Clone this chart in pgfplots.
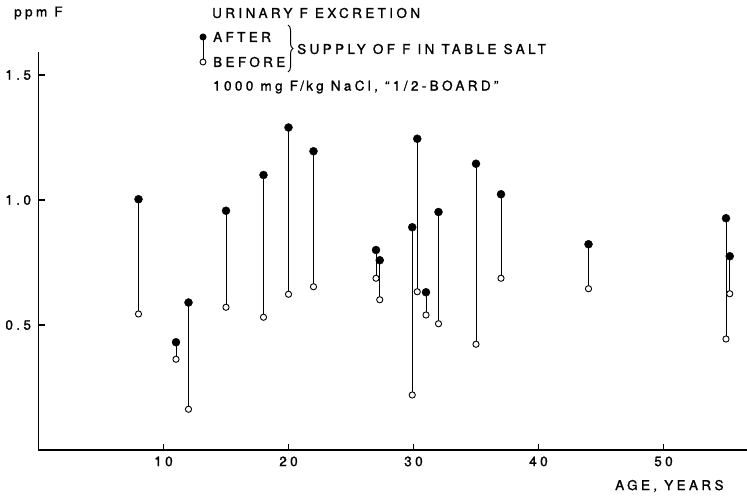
\documentclass[border=0pt]{standalone}
\usepackage{fontspec}
\usepackage{pgfplots}
\usepackage{pgfplotstable}
\pgfplotsset{compat=1.18}
\usetikzlibrary{decorations.pathreplacing}
\setmainfont{TeX Gyre Heros}
\newfontfamily\lf{TeX Gyre Heros}[LetterSpace=25, FakeBold=1.2]
\newcommand{\lff}{\lf\fontsize{13.5}{15}\selectfont}

\pgfplotstableread{
x     b      a
8     0.544  1.003
11    0.363  0.431
12    0.163  0.590
15    0.571  0.957
18    0.531  1.100
20    0.623  1.290
22    0.653  1.195
27    0.687  0.800
27.3  0.601  0.759
29.9  0.220  0.891
30.3  0.633  1.245
31    0.540  0.631
32    0.505  0.952
35    0.423  1.145
37    0.687  1.023
44    0.645  0.823
55    0.444  0.927
55.3  0.625  0.775
}\data

\begin{document}
\begin{tikzpicture}[x=1pt,y=1pt]
\useasboundingbox (0,0) rectangle (747,499);
\begin{axis}[
  at={(38.5pt,49pt)}, anchor=south west,
  scale only axis, width=708pt, height=397.5pt,
  xmin=0, xmax=56.64, ymin=0, ymax=1.59,
  axis x line=bottom, axis y line=left,
  axis line style={-, line width=1.8pt, black},
  tick align=inside, major tick length=6pt,
  tick style={line width=1.1pt, black},
  xtick={10,20,30,40,50},
  ytick={0.5,1.0,1.5}, yticklabels={0.5,1.0,1.5},
  /pgf/number format/assume math mode=true,
  ticklabel style={font=\lff},
  xticklabel style={yshift=-3pt},
  yticklabel style={xshift=-4pt},
  clip=false,
]
\addplot[draw=none, mark=none, forget plot,
  error bars/.cd, y dir=plus, y explicit, error mark=none,
  error bar style={draw=black, solid, line width=0.8pt}]
  table[x=x, y=b, y error expr=\thisrow{a}-\thisrow{b}] {\data};
\addplot[only marks, mark=*, mark size=4pt, black] table[x=x, y=a] {\data};
\addplot[only marks, mark=*, mark size=3.1pt, mark options={fill=white, draw=black, line width=0.9pt}] table[x=x, y=b] {\data};
\end{axis}
% titles and legend
\node[anchor=west, inner sep=0] at (14,486) {\lff ppm F};
\node[anchor=west, inner sep=0] at (212,486) {\lff URINARY F EXCRETION};
\draw[line width=1pt] (203,462) -- (203,437);
\fill (203,462) circle (3.5);
\draw[line width=0.9pt, fill=white] (203,437) circle (3);
\node[anchor=west, inner sep=0] at (213,462) {\lff AFTER};
\node[anchor=west, inner sep=0] at (213,437) {\lff BEFORE};
\draw[line width=1pt, decorate, decoration={brace, amplitude=5pt}] (288,474) -- (288,427);
\node[anchor=west, inner sep=0] at (297,450) {\lff SUPPLY OF F IN TABLE SALT};
\node[anchor=west, inner sep=0] at (213,412) {\lff 1000 mg F\,/\,kg NaCl, “1/2-BOARD”};
\node[anchor=west, inner sep=0] at (615,13) {\lff AGE, YEARS};
\end{tikzpicture}
\end{document}
